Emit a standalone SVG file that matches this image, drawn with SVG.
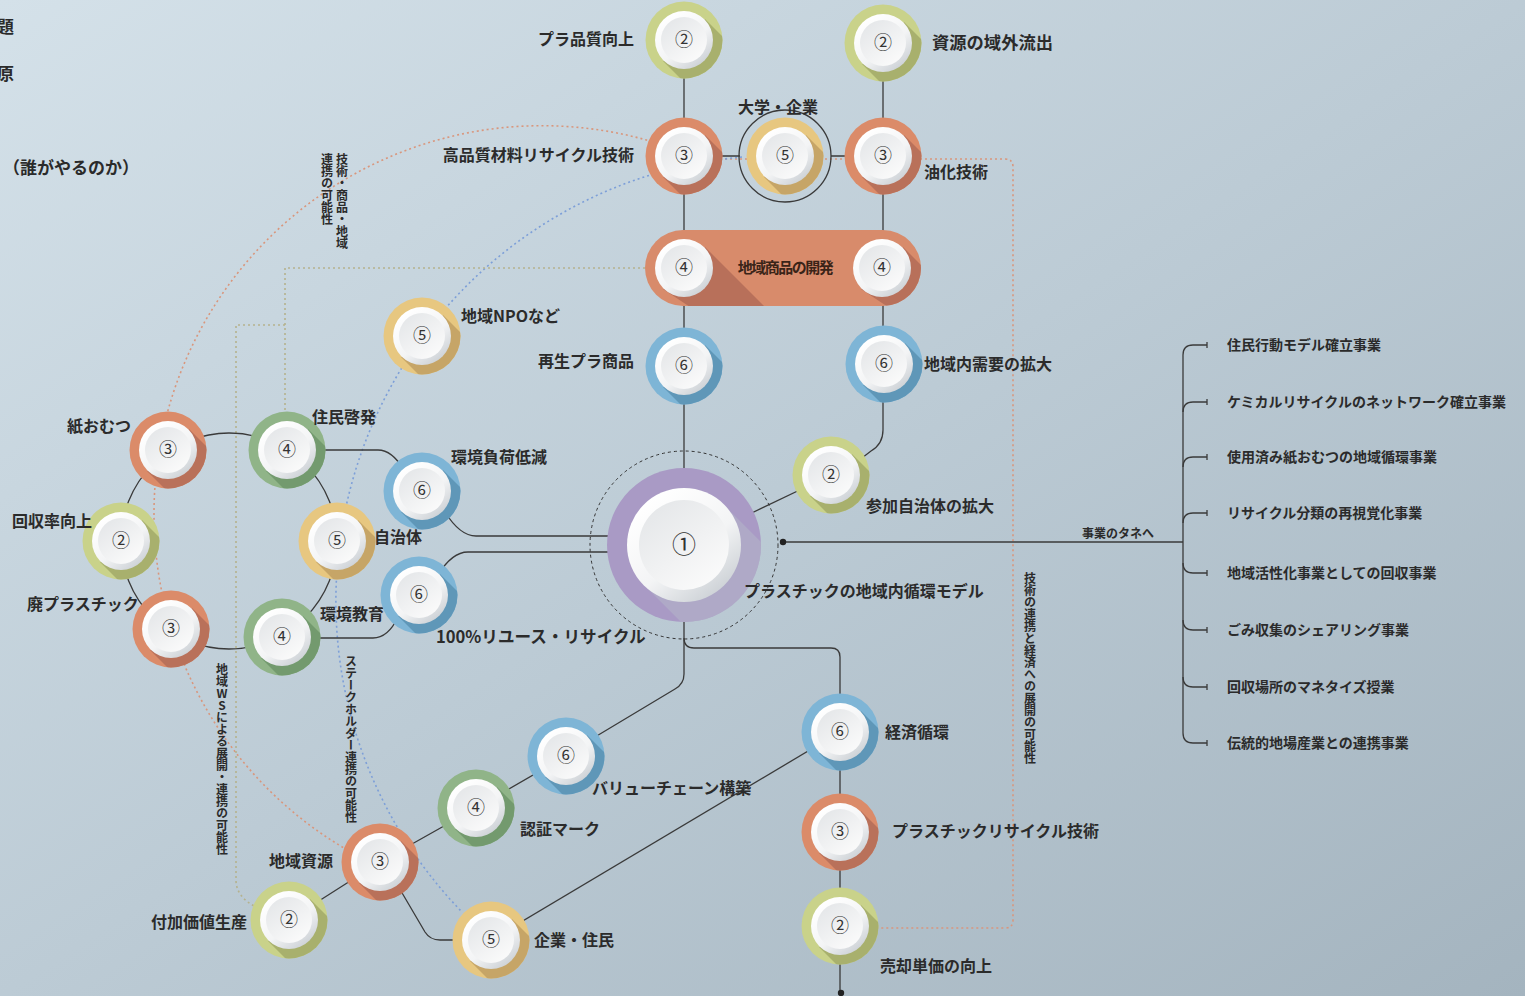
<svg xmlns="http://www.w3.org/2000/svg" xmlns:xlink="http://www.w3.org/1999/xlink" width="1525" height="996" viewBox="0 0 1525 996">
<style>
.lb{font-family:"Noto Sans CJK JP","Noto Sans CJK SC",sans-serif;font-size:16px;font-weight:700;fill:#2b2b2b}
.it{font-family:"Noto Sans CJK JP",sans-serif;font-size:14px;font-weight:700;fill:#2b2b2b}
.sm{font-family:"Noto Sans CJK JP",sans-serif;font-size:12px;font-weight:700;fill:#2b2b2b}
.vt{font-family:"Noto Sans CJK JP",sans-serif;font-size:12px;font-weight:700;fill:#2b2b2b;writing-mode:vertical-rl;text-orientation:upright}
.num{font-family:"Noto Sans CJK JP","DejaVu Sans",sans-serif;font-size:18px;fill:#333;text-anchor:middle}
.ln{fill:none;stroke:#3a3a3a;stroke-width:1.3}
.dO{fill:none;stroke:#d9967c;stroke-width:1.6;stroke-dasharray:2 3}
.dB{fill:none;stroke:#7d9fd8;stroke-width:1.6;stroke-dasharray:2 3}
.dT{fill:none;stroke:#b5b28e;stroke-width:1.6;stroke-dasharray:2 3}
</style>
<defs>
<linearGradient id="bg" x1="0" y1="0" x2="1" y2="1">
<stop offset="0" stop-color="#d4e1e9"/><stop offset="0.5" stop-color="#bccbd5"/><stop offset="1" stop-color="#a4b4bf"/>
</linearGradient>
<linearGradient id="rim" x1="0.2" y1="0.1" x2="0.85" y2="0.95">
<stop offset="0" stop-color="#ffffff"/><stop offset="0.55" stop-color="#f3f4f5"/><stop offset="1" stop-color="#c9ced3"/>
</linearGradient>
<linearGradient id="face" x1="0.2" y1="0.1" x2="0.85" y2="0.95">
<stop offset="0" stop-color="#e6e8ea"/><stop offset="1" stop-color="#fbfbfb"/>
</linearGradient>
<clipPath id="cR"><circle r="38.5"/></clipPath>
<clipPath id="cC"><circle r="77"/></clipPath>
<clipPath id="cP"><rect x="645" y="230" width="276" height="76" rx="38"/></clipPath>
<g id="w">
<circle r="29" fill="url(#rim)"/>
<circle r="23" fill="url(#face)"/>
</g>
<g id="tG"><circle r="38.5" fill="#c9d28a"/><path d="M21,-21L80,38L38,80L-21,21Z" fill="#a8b06d" clip-path="url(#cR)"/><use href="#w"/></g>
<g id="tO"><circle r="38.5" fill="#db8b69"/><path d="M21,-21L80,38L38,80L-21,21Z" fill="#b9715a" clip-path="url(#cR)"/><use href="#w"/></g>
<g id="tV"><circle r="38.5" fill="#90b488"/><path d="M21,-21L80,38L38,80L-21,21Z" fill="#739a6e" clip-path="url(#cR)"/><use href="#w"/></g>
<g id="tY"><circle r="38.5" fill="#e7c780"/><path d="M21,-21L80,38L38,80L-21,21Z" fill="#c6a567" clip-path="url(#cR)"/><use href="#w"/></g>
<g id="tB"><circle r="38.5" fill="#7eb5d6"/><path d="M21,-21L80,38L38,80L-21,21Z" fill="#5f97b8" clip-path="url(#cR)"/><use href="#w"/></g>
</defs>

<rect width="1525" height="996" fill="url(#bg)"/>

<g id="header">
<text class="lb" x="-3" y="33" style="font-size:17px">題</text>
<text class="lb" x="-3" y="80" style="font-size:17px">原</text>
<text class="lb" x="3" y="174" style="font-size:17px">（誰がやるのか）</text>
</g>

<g id="connectors">
<path class="dO" d="M685,153 A388 388 0 0 0 154,514 A388 388 0 0 0 378,866"/>
<path class="dO" d="M690,159 H1005 Q1013,159 1013,167 V920 Q1013,928 1005,928 H870"/>
<path class="dB" d="M742,157 A446 446 0 0 0 462,912"/>
<path class="dT" d="M645,268 H285 V412"/>
<path class="dT" d="M285,325 H236 V880 Q236,897 256,907"/>
<path class="ln" d="M684,40 V470"/>
<path class="ln" d="M883,43 V430 Q883,444 871,451 L858,461"/>
<path class="ln" d="M806,487 L737,520"/>
<path class="ln" d="M684,156 H740"/>
<path class="ln" d="M831,156 H883"/>
<circle class="ln" cx="785" cy="156" r="46"/>
<circle cx="684" cy="545" r="94" fill="none" stroke="#333" stroke-width="1" stroke-dasharray="3 3"/>
<circle class="ln" cx="229" cy="541" r="108"/>
<path class="ln" d="M313,450 H378 Q392,450 404,470"/>
<path class="ln" d="M445,512 Q460,536 476,536 H630"/>
<path class="ln" d="M438,575 Q452,552 468,552 H630"/>
<path class="ln" d="M307,638 H373 Q388,638 398,617"/>
<path class="ln" d="M684,604 V674 Q684,684 675,689 L590,740"/>
<path class="ln" d="M684,638 Q684,648 694,648 H831 Q840,648 840,657 V993"/>
<path class="ln" d="M566,756 L476,808 L380,862 L289,920"/>
<path class="ln" d="M398,886 L425,932 Q430,940 440,940 H491"/>
<path class="ln" d="M491,940 L840,732"/>
<path class="ln" d="M783,542 H1183"/>
<path class="ln" d="M1183,355 V733"/>
<path class="ln" d="M1183,355 Q1183,345 1193,345 H1207 M1207,342 V348"/>
<path class="ln" d="M1183,412 Q1183,402 1193,402 H1207 M1207,399 V405"/>
<path class="ln" d="M1183,467 Q1183,457 1193,457 H1207 M1207,454 V460"/>
<path class="ln" d="M1183,523 Q1183,513 1193,513 H1207 M1207,510 V516"/>
<path class="ln" d="M1183,563 Q1183,573 1193,573 H1207 M1207,570 V576"/>
<path class="ln" d="M1183,620 Q1183,630 1193,630 H1207 M1207,627 V633"/>
<path class="ln" d="M1183,677 Q1183,687 1193,687 H1207 M1207,684 V690"/>
<path class="ln" d="M1183,733 Q1183,743 1193,743 H1207 M1207,740 V746"/>
<circle cx="684" cy="604" r="3.2" fill="#222"/>
<circle cx="783" cy="542" r="3.2" fill="#222"/>
<circle cx="841" cy="993" r="3.2" fill="#222"/>
<text class="sm" x="1082" y="538">事業のタネへ</text>
<text class="vt" x="342" y="153">技術・商品・地域</text>
<text class="vt" x="327" y="153">連携の可能性</text>
<text class="vt" x="222" y="663">地域WSによる展開・連携の可能性</text>
<text class="vt" x="351" y="655">ステークホルダー連携の可能性</text>
<text class="vt" x="1030" y="572">技術の連携と経済への展開の可能性</text>
</g>

<g id="n-pura-hinshitsu"><use href="#tG" x="684" y="40"/><text class="num" x="684" y="46">②</text><text class="lb" x="634" y="45" text-anchor="end">プラ品質向上</text></g>
<g id="n-shigen-ryushutsu"><use href="#tG" x="883" y="43"/><text class="num" x="883" y="49">②</text><text class="lb" x="932" y="49" style="font-size:17.3px">資源の域外流出</text></g>
<g id="n-kohinshitsu"><use href="#tO" x="684" y="156"/><text class="num" x="684" y="162">③</text><text class="lb" x="634" y="161" text-anchor="end">高品質材料リサイクル技術</text></g>
<g id="n-daigaku"><use href="#tY" x="785" y="156"/><text class="num" x="785" y="162">⑤</text><text class="lb" x="738" y="113">大学・企業</text></g>
<g id="n-yuka"><use href="#tO" x="883" y="156"/><text class="num" x="883" y="162">③</text><text class="lb" x="924" y="178">油化技術</text></g>
<g id="n-chiiki-shohin">
<rect x="645" y="230" width="276" height="76" rx="38" fill="#d88b6b"/>
<path d="M705,247L775,317L705,317L663,289Z" fill="#b8705a" clip-path="url(#cP)"/>
<path d="M903,247L973,317L903,317L861,289Z" fill="#b8705a" clip-path="url(#cP)"/>
<use href="#w" x="684" y="268"/><use href="#w" x="882" y="268"/>
<text class="num" x="684" y="274">④</text><text class="num" x="882" y="274">④</text>
<text class="lb" x="785" y="273" text-anchor="middle" style="font-size:15px;letter-spacing:-1.5px;fill:#3a2418">地域商品の開発</text>
</g>
<g id="n-saisei"><use href="#tB" x="684" y="366"/><text class="num" x="684" y="372">⑥</text><text class="lb" x="634" y="367" text-anchor="end">再生プラ商品</text></g>
<g id="n-juyou"><use href="#tB" x="884" y="364"/><text class="num" x="884" y="370">⑥</text><text class="lb" x="924" y="370">地域内需要の拡大</text></g>
<g id="n-npo"><use href="#tY" x="422" y="336"/><text class="num" x="422" y="342">⑤</text><text class="lb" x="461" y="322">地域NPOなど</text></g>
<g id="n-sanka"><use href="#tG" x="831" y="475"/><text class="num" x="831" y="481">②</text><text class="lb" x="866" y="512">参加自治体の拡大</text></g>
<g id="n-center">
<circle cx="684" cy="545" r="77" fill="#a99ac5"/>
<path d="M40,-40L140,60L60,140L-40,40Z" transform="translate(684,545)" fill="#b5b7c8" opacity="0.55" clip-path="url(#cC)"/>
<circle cx="684" cy="545" r="57" fill="url(#rim)"/>
<circle cx="684" cy="545" r="45" fill="url(#face)"/>
<text class="num" x="684" y="553" style="font-size:24px">①</text>
<text class="lb" x="744" y="597">プラスチックの地域内循環モデル</text>
</g>
<g id="n-kamiomutsu"><use href="#tO" x="168" y="450"/><text class="num" x="168" y="456">③</text><text class="lb" x="67" y="432">紙おむつ</text></g>
<g id="n-kaishuritsu"><use href="#tG" x="121" y="541"/><text class="num" x="121" y="547">②</text><text class="lb" x="12" y="527">回収率向上</text></g>
<g id="n-haipura"><use href="#tO" x="171" y="629"/><text class="num" x="171" y="635">③</text><text class="lb" x="27" y="610">廃プラスチック</text></g>
<g id="n-jumin-keihatsu"><use href="#tV" x="287" y="450"/><text class="num" x="287" y="456">④</text><text class="lb" x="312" y="423">住民啓発</text></g>
<g id="n-jichitai"><use href="#tY" x="337" y="541"/><text class="num" x="337" y="547">⑤</text><text class="lb" x="374" y="543">自治体</text></g>
<g id="n-kankyo-kyoiku"><use href="#tV" x="282" y="637"/><text class="num" x="282" y="643">④</text><text class="lb" x="320" y="620">環境教育</text></g>
<g id="n-kankyo-fuka"><use href="#tB" x="422" y="491"/><text class="num" x="422" y="497">⑥</text><text class="lb" x="451" y="463">環境負荷低減</text></g>
<g id="n-reuse"><use href="#tB" x="419" y="595"/><text class="num" x="419" y="601">⑥</text><text class="lb" x="436" y="643" style="font-size:16.6px">100%リユース・リサイクル</text></g>
<g id="n-value"><use href="#tB" x="566" y="756"/><text class="num" x="566" y="762">⑥</text><text class="lb" x="592" y="794">バリューチェーン構築</text></g>
<g id="n-ninsho"><use href="#tV" x="476" y="808"/><text class="num" x="476" y="814">④</text><text class="lb" x="520" y="835">認証マーク</text></g>
<g id="n-chiiki-shigen"><use href="#tO" x="380" y="862"/><text class="num" x="380" y="868">③</text><text class="lb" x="269" y="867">地域資源</text></g>
<g id="n-fukakachi"><use href="#tG" x="289" y="920"/><text class="num" x="289" y="926">②</text><text class="lb" x="151" y="928">付加価値生産</text></g>
<g id="n-kigyo-jumin"><use href="#tY" x="491" y="940"/><text class="num" x="491" y="946">⑤</text><text class="lb" x="534" y="946">企業・住民</text></g>
<g id="n-keizai"><use href="#tB" x="840" y="732"/><text class="num" x="840" y="738">⑥</text><text class="lb" x="885" y="738">経済循環</text></g>
<g id="n-pura-recycle"><use href="#tO" x="840" y="832"/><text class="num" x="840" y="838">③</text><text class="lb" x="892" y="837">プラスチックリサイクル技術</text></g>
<g id="n-baikyaku"><use href="#tG" x="840" y="926"/><text class="num" x="840" y="932">②</text><text class="lb" x="880" y="972">売却単価の向上</text></g>

<g id="jigyo-list">
<text class="it" x="1227" y="350">住民行動モデル確立事業</text>
<text class="it" x="1227" y="407">ケミカルリサイクルのネットワーク確立事業</text>
<text class="it" x="1227" y="462">使用済み紙おむつの地域循環事業</text>
<text class="it" x="1227" y="518">リサイクル分類の再視覚化事業</text>
<text class="it" x="1227" y="578">地域活性化事業としての回収事業</text>
<text class="it" x="1227" y="635">ごみ収集のシェアリング事業</text>
<text class="it" x="1227" y="692">回収場所のマネタイズ授業</text>
<text class="it" x="1227" y="748">伝統的地場産業との連携事業</text>
</g>
</svg>
